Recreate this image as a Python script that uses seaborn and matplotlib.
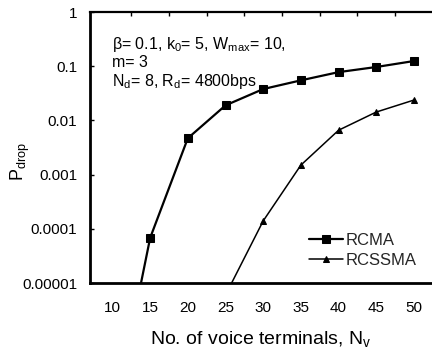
import matplotlib
matplotlib.use("Agg")
import matplotlib.pyplot as plt
import seaborn as sns
import pandas as pd
import numpy as np

# Data
n_voice = [10, 15, 20, 25, 30, 35, 40, 45, 50]
rcma = [2.5e-8, 6.8e-5, 4.7e-3, 0.019, 0.038, 0.055, 0.078, 0.097, 0.125]
n_voice_ss = [25, 30, 35, 40, 45, 50]
rcssma = [6e-6, 1.4e-4, 1.5e-3, 6.6e-3, 0.0143, 0.0238]
y_ticks = [1e-5, 1e-4, 1e-3, 1e-2, 1e-1, 1]
y_tick_labels = ["0.00001", "0.0001", "0.001", "0.01", "0.1", "1"]
x_ticks = [10, 15, 20, 25, 30, 35, 40, 45, 50]
top_ticks = [12.5, 17.5, 22.5, 27.5, 32.5, 37.5, 42.5, 47.5]

sns.set_theme(style="white")
plt.rcParams['font.family'] = ['Liberation Sans', 'DejaVu Sans']
plt.rcParams['mathtext.fontset'] = 'custom'
plt.rcParams['mathtext.rm'] = 'Liberation Sans'
plt.rcParams['mathtext.it'] = 'Liberation Sans'

df1 = pd.DataFrame({"N": n_voice, "P": rcma})
df2 = pd.DataFrame({"N": n_voice_ss, "P": rcssma})

fig = plt.figure(figsize=(4.32, 3.56), dpi=100)
ax = fig.add_axes([0.208, 0.205, 0.792, 0.761])

sns.lineplot(data=df1, x="N", y="P", ax=ax, color="black", marker="s",
             markersize=6, linewidth=1.6, label="RCMA", markeredgecolor="black")
sns.lineplot(data=df2, x="N", y="P", ax=ax, color="black", marker="^",
             markersize=5, linewidth=1.1, label="RCSSMA", markeredgecolor="black")

ax.set_yscale("log")
ax.set_ylim(1e-5, 1)
ax.set_xlim(7.0, 52.4)
ax.set_yticks(y_ticks)
ax.set_yticklabels(y_tick_labels)
ax.yaxis.set_minor_locator(matplotlib.ticker.NullLocator())
ax.set_xticks(x_ticks)
ax.set_xticklabels([str(v) for v in x_ticks])
ax.tick_params(axis="x", length=0, labelsize=11, pad=13, colors="black")
ax.tick_params(axis="y", direction="in", length=3, width=1, labelsize=11,
               pad=9, colors="black", left=True)

sec = ax.secondary_xaxis("top")
sec.set_xticks(top_ticks)
sec.set_xticklabels([])
sec.tick_params(direction="in", length=3, width=1, colors="black")
sec.spines["top"].set_visible(False)

for s in ["left", "bottom"]:
    ax.spines[s].set_linewidth(2)
    ax.spines[s].set_color("black")
ax.spines["top"].set_linewidth(1.6)
ax.spines["top"].set_color("black")
ax.spines["right"].set_visible(False)

ax.set_xlabel("No. of voice terminals, N$_\\mathrm{v}$", fontsize=14, labelpad=10, color="black")
ax.set_ylabel("P$_\\mathrm{drop}$", fontsize=13, color="black")
ax.yaxis.set_label_coords(-0.17, 0.45)

ax.text(0.065, 0.915, "$\\beta$= 0.1, k$_0$= 5, W$_\\mathrm{max}$= 10,\nm= 3\nN$_\\mathrm{d}$= 8, R$_\\mathrm{d}$= 4800bps",
        transform=ax.transAxes, fontsize=11.5, va="top", ha="left", linespacing=1.1, color="black")

leg = ax.legend(loc="lower right", bbox_to_anchor=(1.0, 0.0), frameon=False,
                fontsize=12, handlelength=2.0, handletextpad=0.2, labelspacing=0.3)

fig.savefig("out.png", dpi=100)
